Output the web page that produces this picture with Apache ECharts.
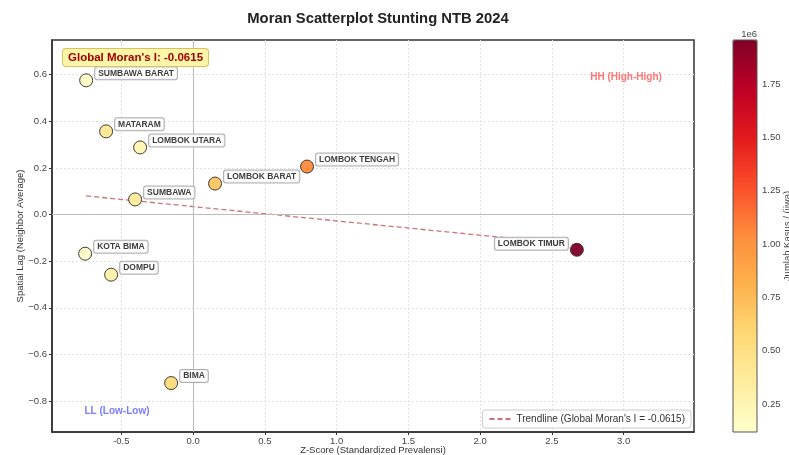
<!DOCTYPE html>
<html>
<head>
<meta charset="utf-8">
<script src="https://cdn.jsdelivr.net/npm/echarts@6/dist/echarts.min.js"></script>
<style>
  html, body { margin: 0; padding: 0; background: #fff; }
  #chart { width: 789px; height: 455px; }
</style>
</head>
<body>
<div id="chart"></div>
<script>
// kabupaten / kota
var regions = ['SUMBAWA BARAT', 'MATARAM', 'LOMBOK UTARA', 'LOMBOK TENGAH', 'LOMBOK BARAT',
               'SUMBAWA', 'KOTA BIMA', 'DOMPU', 'BIMA', 'LOMBOK TIMUR'];
// z-score prevalensi
var zScores = [-0.745, -0.606, -0.369, 0.794, 0.153, -0.404, -0.752, -0.571, -0.153, 2.674];
// spatial lag
var lagValues = [0.576, 0.357, 0.288, 0.206, 0.133, 0.065, -0.168, -0.258, -0.723, -0.151];
// jumlah kasus (jiwa)
var cases = [150000, 420000, 260000, 1050000, 700000, 380000, 140000, 300000, 560000, 1956000];

var trendX = [-0.745, 2.674];
var trendY = [0.080, -0.130];
var moranI = -0.0615;

var xTicks = [-0.5, 0.0, 0.5, 1.0, 1.5, 2.0, 2.5, 3.0];
var yTicks = [-0.8, -0.6, -0.4, -0.2, 0.0, 0.2, 0.4, 0.6];
var cbTicks = [0.25, 0.5, 0.75, 1.0, 1.25, 1.5, 1.75];

var ylOrRd = ['#ffffcc', '#ffeda0', '#fed976', '#feb24c', '#fd8d3c', '#fc4e2a', '#e31a1c', '#bd0026', '#800026'];

var chart = echarts.init(document.getElementById('chart'));

var pts = regions.map(function (name, i) {
    var item = { name: name, value: [zScores[i], lagValues[i], cases[i]] };
    if (name === 'LOMBOK TIMUR') {
        item.label = { position: 'left', offset: [0, -6] };
    }
    return item;
});

var font = 'Liberation Sans, Arial, sans-serif';
var trendName = 'Trendline (Global Moran\'s I = ' + moranI + ')';

var option = {
    animation: false,
    textStyle: { fontFamily: font },
    title: {
        text: 'Moran Scatterplot Stunting NTB 2024',
        left: 373, top: 6, textAlign: 'center',
        textStyle: { fontSize: 14.8, fontWeight: 'bold', color: '#222', fontFamily: font }
    },
    grid: [
        { left: 52, right: 95, top: 40, bottom: 23, outerBoundsMode: 'none', containLabel: false,
          show: true, borderColor: '#333', borderWidth: 1.5, backgroundColor: '#fff' },
        { left: 733, width: 24, top: 40, height: 392, outerBoundsMode: 'none', containLabel: false, show: false }
    ],
    xAxis: [
        {
            type: 'value', gridIndex: 0, min: -0.983, max: 3.49,
            name: 'Z-Score (Standardized Prevalensi)', nameLocation: 'middle', nameGap: 13,
            nameMoveOverlap: false,
            nameTextStyle: { fontSize: 9.5, color: '#333' },
            axisLine: { show: true, onZero: false, lineStyle: { color: '#333', width: 1.5 } },
            axisTick: { show: true, customValues: xTicks, length: 3, lineStyle: { color: '#333' } },
            axisLabel: { customValues: xTicks, fontSize: 9.5, color: '#444', margin: 4,
                formatter: function (v) { return v.toFixed(1); } },
            splitLine: { show: true, lineStyle: { color: '#e2e2e2', type: [2, 2], width: 1 } }
        },
        { type: 'value', gridIndex: 1, show: false, min: 0, max: 1 }
    ],
    yAxis: [
        {
            type: 'value', gridIndex: 0, min: -0.933, max: 0.749,
            name: 'Spatial Lag (Neighbor Average)', nameLocation: 'middle', nameGap: 27,
            nameMoveOverlap: false,
            nameTextStyle: { fontSize: 9.5, color: '#333' },
            axisLine: { show: true, onZero: false, lineStyle: { color: '#333', width: 1.5 } },
            axisTick: { show: true, customValues: yTicks, length: 3, lineStyle: { color: '#333' } },
            axisLabel: { customValues: yTicks, fontSize: 9.5, color: '#444', margin: 5,
                formatter: function (v) { return v.toFixed(1).replace('-', '\u2212'); } },
            splitLine: { show: true, lineStyle: { color: '#e2e2e2', type: [2, 2], width: 1 } }
        },
        {
            type: 'value', gridIndex: 1, position: 'right', min: 0.119, max: 1.956,
            axisLine: { show: false },
            axisTick: { show: true, customValues: cbTicks, length: 3, lineStyle: { color: '#333' } },
            axisLabel: { customValues: cbTicks, fontSize: 9.5, color: '#444', margin: 5,
                formatter: function (v) { return v.toFixed(2); } },
            splitLine: { show: false }
        }
    ],
    visualMap: {
        type: 'continuous', seriesIndex: 0, dimension: 2,
        min: 119000, max: 1956000,
        left: 733, top: 40, itemWidth: 24, itemHeight: 392, padding: 0,
        calculable: false, text: ['', ''], showLabel: false,
        inRange: { color: ylOrRd }
    },
    legend: {
        data: [{ name: trendName, itemStyle: { opacity: 0 } }],
        right: 98, top: 410, padding: [4, 6], itemGap: 6,
        itemWidth: 22, itemHeight: 8,
        backgroundColor: '#fff', borderColor: '#ccc', borderWidth: 1, borderRadius: 3,
        textStyle: { fontSize: 10, color: '#333' }
    },
    graphic: [
        {
            type: 'text', left: 62, top: 48, z: 10,
            style: {
                text: 'Global Moran\'s I: ' + moranI, fill: '#a00000',
                font: 'bold 11.5px ' + font,
                backgroundColor: '#fdf6a8', borderColor: '#d9c25a', borderWidth: 1,
                borderRadius: 3, padding: [3, 5, 2, 5]
            }
        },
        {
            type: 'text', x: 626, y: 77, z: 10,
            style: { text: 'HH (High-High)', fill: '#ff7575', font: 'bold 10px ' + font, align: 'center', verticalAlign: 'middle' }
        },
        {
            type: 'text', x: 117, y: 411, z: 10,
            style: { text: 'LL (Low-Low)', fill: '#7b7bff', font: 'bold 10px ' + font, align: 'center', verticalAlign: 'middle' }
        },
        {
            type: 'rect', shape: { x: 733, y: 40, width: 24, height: 392 }, z: 10, silent: true,
            style: { fill: 'none', stroke: '#555', lineWidth: 1 }
        },
        {
            type: 'text', x: 757, y: 34, z: 10,
            style: { text: '1e6', fill: '#444', font: '9.5px ' + font, align: 'right', verticalAlign: 'middle' }
        },
        {
            type: 'text', x: 787, y: 236, rotation: Math.PI / 2, z: 10,
            style: { text: 'Jumlah Kasus / (jiwa)', fill: '#444', font: '9.5px ' + font, align: 'center', verticalAlign: 'middle' }
        }
    ],
    series: [
        {
            type: 'scatter', name: 'Kab/Kota', xAxisIndex: 0, yAxisIndex: 0,
            data: pts, symbolSize: 13, z: 5,
            itemStyle: { borderColor: '#333', borderWidth: 1, opacity: 0.95 },
            label: {
                show: true, position: 'right', distance: 2, offset: [0, -7],
                formatter: '{b}', fontSize: 8.5, fontWeight: 'bold', color: '#333',
                backgroundColor: 'rgba(255,255,255,0.85)', borderColor: '#aaa', borderWidth: 1,
                borderRadius: 2, padding: [2, 3, 1, 3]
            }
        },
        {
            type: 'line', name: trendName,
            xAxisIndex: 0, yAxisIndex: 0, z: 3,
            data: trendX.map(function (x, i) { return [x, trendY[i]]; }),
            symbol: 'none',
            lineStyle: { color: 'rgba(200,90,90,0.85)', width: 1.3, type: [5, 3] },
            itemStyle: { color: 'rgba(200,90,90,0.85)' },
            markLine: {
                silent: true, symbol: 'none', label: { show: false },
                lineStyle: { color: '#bbb', width: 1, type: 'solid' },
                data: [{ xAxis: 0 }, { yAxis: 0 }]
            }
        },
        { type: 'scatter', xAxisIndex: 1, yAxisIndex: 1, data: [] }
    ]
};

chart.setOption(option);
</script>
</body>
</html>
